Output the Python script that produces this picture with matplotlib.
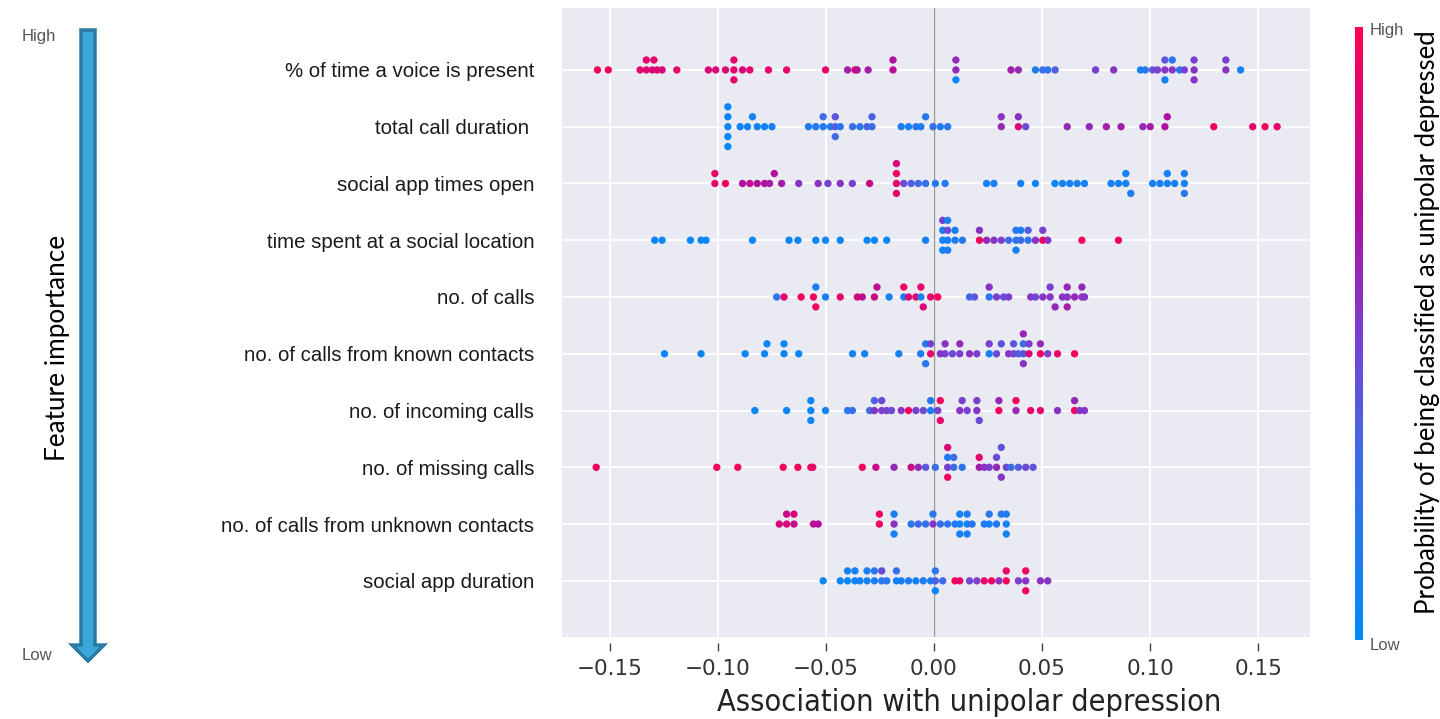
import numpy as np
import matplotlib.pyplot as plt
from matplotlib.colors import LinearSegmentedColormap
from matplotlib.patches import Polygon
from matplotlib.transforms import IdentityTransform
import matplotlib as mpl

# feature names, top (most important) to bottom
features = ["% of time a voice is present", "total call duration ", "social app times open",
            "time spent at a social location", "no. of calls", "no. of calls from known contacts",
            "no. of incoming calls", "no. of missing calls", "no. of calls from unknown contacts",
            "social app duration"]

# SHAP values (x) and colour value (0 = low, 1 = high probability) per feature
voice_x = [-0.1556, -0.1506, -0.1359, -0.1330, -0.1330, -0.1302, -0.1295, -0.1280, -0.1257, -0.1189,
           -0.1043, -0.1009, -0.0964, -0.0925, -0.0925, -0.0925, -0.0885, -0.0851, -0.0765, -0.0681,
           -0.0501, -0.0399, -0.0365, -0.0355, -0.0304, -0.0189, -0.0189, 0.0102, 0.0102, 0.0102,
           0.0357, 0.0391, 0.0470, 0.0504, 0.0527, 0.0561, 0.0748, 0.0832, 0.0956, 0.0978,
           0.1012, 0.1035, 0.1069, 0.1069, 0.1069, 0.1103, 0.1103, 0.1137, 0.1159, 0.1204,
           0.1204, 0.1204, 0.1351, 0.1351, 0.1419]
voice_c = [0.95, 0.95, 0.9, 0.9, 0.9, 0.85, 0.9, 0.9, 0.85, 0.9,
           0.85, 0.85, 0.85, 0.9, 0.9, 0.9, 0.85, 0.9, 0.9, 0.9,
           0.9, 0.65, 0.9, 0.7, 0.65, 0.75, 0.7, 0.6, 0.6, 0.05,
           0.65, 0.6, 0.15, 0.3, 0.2, 0.35, 0.5, 0.55, 0.1, 0.2,
           0.4, 0.5, 0.55, 0.4, 0.1, 0.55, 0.2, 0.15, 0.5, 0.55,
           0.5, 0.55, 0.55, 0.5, 0.1]

calldur_x = [-0.0953, -0.0953, -0.0953, -0.0953, -0.0953, -0.0896, -0.0862, -0.0839, -0.0817, -0.0783,
             -0.0749, -0.0580, -0.0546, -0.0512, -0.0512, -0.0478, -0.0456, -0.0456, -0.0456, -0.0433,
             -0.0376, -0.0342, -0.0309, -0.0286, -0.0286, -0.0151, -0.0117, -0.0083, -0.0060, -0.0038,
             -0.0004, 0.0030, 0.0064, 0.0312, 0.0312, 0.0391, 0.0391, 0.0425, 0.0617, 0.0719,
             0.0798, 0.0866, 0.0967, 0.1001, 0.1069, 0.1080, 0.1295, 0.1475, 0.1532, 0.1588]
calldur_c = [0.05, 0.05, 0.05, 0.05, 0.05, 0.08, 0.1, 0.1, 0.08, 0.1,
             0.1, 0.15, 0.2, 0.15, 0.3, 0.2, 0.35, 0.4, 0.3, 0.2,
             0.25, 0.2, 0.35, 0.3, 0.35, 0.15, 0.1, 0.2, 0.15, 0.2,
             0.25, 0.15, 0.2, 0.6, 0.55, 0.85, 0.55, 0.45, 0.6, 0.6,
             0.65, 0.65, 0.6, 0.65, 0.7, 0.7, 0.95, 0.9, 0.95, 0.9]

appopen_x = [-0.1013, -0.1013, -0.0964, -0.0885, -0.0851, -0.0817, -0.0783, -0.0760, -0.0738, -0.0704,
             -0.0625, -0.0535, -0.0490, -0.0433, -0.0377, -0.0297, -0.0173, -0.0173, -0.0173, -0.0173,
             -0.0139, -0.0105, -0.0072, -0.0038, 0.0007, 0.0052, 0.0244, 0.0278, 0.0402, 0.0470,
             0.0560, 0.0595, 0.0629, 0.0663, 0.0697, 0.0820, 0.0854, 0.0888, 0.0888, 0.0911,
             0.1012, 0.1046, 0.1080, 0.1080, 0.1114, 0.1159, 0.1159, 0.1159]
appopen_c = [0.9, 0.9, 0.95, 0.7, 0.75, 0.7, 0.7, 0.65, 0.7, 0.65,
             0.55, 0.55, 0.5, 0.55, 0.5, 0.8, 0.9, 0.95, 0.9, 0.85,
             0.45, 0.35, 0.3, 0.25, 0.15, 0.15, 0.1, 0.1, 0.1, 0.1,
             0.05, 0.1, 0.1, 0.1, 0.1, 0.1, 0.1, 0.1, 0.1, 0.15,
             0.1, 0.1, 0.1, 0.1, 0.1, 0.1, 0.15, 0.2]

socloc_x = [-0.1291, -0.1257, -0.1126, -0.1077, -0.1054, -0.0839, -0.0670, -0.0629, -0.0546, -0.0501,
            -0.0433, -0.0309, -0.0275, -0.0218, -0.0038, 0.0041, 0.0041, 0.0041, 0.0041, 0.0064,
            0.0064, 0.0064, 0.0064, 0.0098, 0.0098, 0.0132, 0.0211, 0.0211, 0.0244, 0.0278,
            0.0312, 0.0346, 0.0380, 0.0380, 0.0380, 0.0402, 0.0402, 0.0436, 0.0436, 0.0470,
            0.0504, 0.0504, 0.0527, 0.0685, 0.0854]
socloc_c = [0.05, 0.05, 0.05, 0.05, 0.05, 0.05, 0.05, 0.05, 0.05, 0.05,
            0.05, 0.05, 0.05, 0.05, 0.1, 0.1, 0.15, 0.05, 0.5, 0.1,
            0.45, 0.15, 0.1, 0.15, 0.1, 0.2, 0.95, 0.55, 0.6, 0.55,
            0.5, 0.3, 0.2, 0.15, 0.1, 0.3, 0.15, 0.2, 0.35, 0.55,
            0.95, 0.5, 0.55, 0.95, 0.95]

ncalls_x = [-0.0727, -0.0693, -0.0614, -0.0557, -0.0546, -0.0546, -0.0501, -0.0433, -0.0354, -0.0331,
            -0.0275, -0.0263, -0.0207, -0.0139, -0.0139, -0.0117, -0.0083, -0.0060, -0.0060, -0.0049,
            -0.0015, 0.0018, 0.0165, 0.0188, 0.0256, 0.0256, 0.0290, 0.0323, 0.0346, 0.0448,
            0.0470, 0.0504, 0.0538, 0.0538, 0.0561, 0.0595, 0.0617, 0.0617, 0.0617, 0.0651,
            0.0685, 0.0685, 0.0697]
ncalls_c = [0.2, 0.9, 0.95, 0.95, 0.15, 0.95, 0.1, 0.9, 0.85, 0.75,
            0.8, 0.75, 0.1, 0.1, 0.95, 0.85, 0.9, 0.1, 0.9, 0.85,
            0.9, 0.95, 0.3, 0.4, 0.2, 0.55, 0.5, 0.45, 0.5, 0.55,
            0.45, 0.55, 0.55, 0.5, 0.6, 0.55, 0.55, 0.6, 0.65, 0.6,
            0.55, 0.6, 0.55]

known_x = [-0.1246, -0.1077, -0.0873, -0.0783, -0.0772, -0.0693, -0.0693, -0.0625, -0.0376, -0.0320,
           -0.0162, -0.0061, -0.0038, -0.0038, -0.0015, -0.0015, 0.0030, 0.0052, 0.0052, 0.0086,
           0.0120, 0.0120, 0.0165, 0.0199, 0.0256, 0.0256, 0.0290, 0.0312, 0.0346, 0.0369,
           0.0369, 0.0391, 0.0414, 0.0414, 0.0414, 0.0414, 0.0440, 0.0440, 0.0493, 0.0493,
           0.0527, 0.0572, 0.0651]
known_c = [0.05, 0.05, 0.05, 0.05, 0.05, 0.05, 0.05, 0.05, 0.1, 0.1,
           0.1, 0.15, 0.15, 0.2, 0.9, 0.5, 0.55, 0.5, 0.55, 0.45,
           0.5, 0.6, 0.55, 0.5, 0.1, 0.5, 0.45, 0.4, 0.55, 0.5,
           0.4, 0.35, 0.4, 0.3, 0.55, 0.6, 0.85, 0.5, 0.95, 0.6,
           0.5, 0.9, 0.95]

incoming_x = [-0.0828, -0.0681, -0.0569, -0.0569, -0.0569, -0.0501, -0.0399, -0.0377, -0.0297, -0.0275,
              -0.0275, -0.0241, -0.0241, -0.0218, -0.0196, -0.0151, -0.0117, -0.0083, -0.0049, -0.0015,
              -0.0015, 0.0018, 0.0030, 0.0030, 0.0120, 0.0131, 0.0154, 0.0199, 0.0199, 0.0210,
              0.0301, 0.0301, 0.0380, 0.0380, 0.0448, 0.0493, 0.0572, 0.0651, 0.0651, 0.0674,
              0.0697]
incoming_c = [0.05, 0.05, 0.05, 0.05, 0.05, 0.1, 0.2, 0.25, 0.3, 0.55,
              0.35, 0.5, 0.45, 0.5, 0.45, 0.55, 0.95, 0.5, 0.45, 0.1,
              0.15, 0.5, 0.95, 0.9, 0.55, 0.5, 0.5, 0.55, 0.5, 0.45,
              0.95, 0.6, 0.6, 0.95, 0.9, 0.9, 0.55, 0.95, 0.6, 0.55,
              0.55]

missing_x = [-0.1562, -0.1004, -0.0907, -0.0697, -0.0629, -0.0569, -0.0560, -0.0331, -0.0268, -0.0184,
             -0.0105, -0.0072, -0.0038, 0.0007, 0.0064, 0.0064, 0.0064, 0.0064, 0.0092, 0.0092,
             0.0131, 0.0210, 0.0210, 0.0233, 0.0256, 0.0290, 0.0290, 0.0312, 0.0312, 0.0335,
             0.0357, 0.0391, 0.0425, 0.0459]
missing_c = [0.95, 0.95, 0.95, 0.95, 0.95, 0.95, 0.9, 0.95, 0.8, 0.6,
             0.8, 0.6, 0.4, 0.3, 0.5, 0.15, 0.95, 0.85, 0.3, 0.3,
             0.2, 0.65, 0.9, 0.55, 0.5, 0.6, 0.45, 0.55, 0.4, 0.45,
             0.3, 0.35, 0.45, 0.4]

unknown_x = [-0.0715, -0.0681, -0.0681, -0.0647, -0.0647, -0.0557, -0.0535, -0.0252, -0.0252, -0.0184,
             -0.0184, -0.0184, -0.0105, -0.0072, -0.0038, -0.0004, -0.0004, 0.0030, 0.0064, 0.0098,
             0.0120, 0.0120, 0.0120, 0.0154, 0.0154, 0.0154, 0.0177, 0.0233, 0.0256, 0.0256,
             0.0290, 0.0312, 0.0335, 0.0335, 0.0335]
unknown_c = [0.85, 0.85, 0.8, 0.8, 0.85, 0.75, 0.7, 0.95, 0.95, 0.55,
             0.15, 0.1, 0.2, 0.3, 0.25, 0.55, 0.2, 0.25, 0.2, 0.15,
             0.1, 0.1, 0.1, 0.1, 0.15, 0.1, 0.2, 0.15, 0.1, 0.2,
             0.15, 0.2, 0.1, 0.15, 0.1]

appdur_x = [-0.0512, -0.0433, -0.0399, -0.0399, -0.0365, -0.0365, -0.0342, -0.0309, -0.0309, -0.0275,
            -0.0275, -0.0241, -0.0241, -0.0218, -0.0173, -0.0173, -0.0151, -0.0117, -0.0083, -0.0049,
            -0.0015, 0.0007, 0.0007, 0.0007, 0.0041, 0.0098, 0.0120, 0.0165, 0.0199, 0.0233,
            0.0267, 0.0301, 0.0335, 0.0335, 0.0391, 0.0425, 0.0425, 0.0425, 0.0493, 0.0527]
appdur_c = [0.05, 0.05, 0.05, 0.1, 0.05, 0.1, 0.1, 0.1, 0.15, 0.1,
            0.2, 0.2, 0.45, 0.2, 0.1, 0.25, 0.1, 0.15, 0.1, 0.15,
            0.1, 0.35, 0.2, 0.05, 0.3, 0.95, 0.9, 0.45, 0.5, 0.9,
            0.95, 0.55, 0.95, 0.9, 0.5, 0.55, 0.95, 0.95, 0.55, 0.55]

xticks = [-0.15, -0.10, -0.05, 0.00, 0.05, 0.10, 0.15]

all_x = [voice_x, calldur_x, appopen_x, socloc_x, ncalls_x, known_x, incoming_x, missing_x, unknown_x, appdur_x]
all_c = [voice_c, calldur_c, appopen_c, socloc_c, ncalls_c, known_c, incoming_c, missing_c, unknown_c, appdur_c]

cmap = LinearSegmentedColormap.from_list(
    "red_blue", [(0.0, "#008bfb"), (0.3, "#3f6be6"), (0.5, "#7a3fd0"),
                 (0.7, "#b0109e"), (1.0, "#ff0052")])


def swarm_offsets(x, binw=0.0025, step=0.175):
    # simple beeswarm: points in the same bin get stacked up/down
    x = np.asarray(x)
    q = np.round(x / binw)
    order = np.argsort(q, kind="stable")
    ys = np.zeros(len(x))
    layer, last = 0, None
    for i in order:
        if q[i] != last:
            layer = 0
        ys[i] = np.ceil(layer / 2) * ((layer % 2) * 2 - 1)
        layer += 1
        last = q[i]
    return ys * step


fig = plt.figure(figsize=(14.4, 7.19), dpi=100)
ax = fig.add_axes([0.3903, 0.114, 0.5194, 0.8748])
ax.set_facecolor("#eaeaf2")
for sp in ax.spines.values():
    sp.set_visible(False)
ax.spines["bottom"].set_position(("outward", 4))

n = len(features)
for i, (xv, cv) in enumerate(zip(all_x, all_c)):
    y0 = n - 1 - i
    ax.scatter(xv, y0 + swarm_offsets(xv), c=cv, cmap=cmap, vmin=0, vmax=1,
               s=28, linewidths=0, zorder=3)

ax.axvline(0, color="#999999", lw=1.0, zorder=2)
ax.set_xlim(-0.172, 0.174)
ax.set_ylim(-0.99, n - 1 + 1.09)
ax.set_yticks(range(n))
ax.set_yticklabels(features[::-1], fontsize=14.7, family="Liberation Sans", color="#1a1a1a")
ax.set_xticks(xticks)
ax.set_xticklabels(["\u22120.15", "\u22120.10", "\u22120.05", "0.00", "0.05", "0.10", "0.15"],
                   fontsize=15.5, family="DejaVu Sans", color="#333333")
ax.grid(True, color="white", lw=1.3, zorder=0)
ax.set_axisbelow(True)
ax.tick_params(axis="y", length=0, pad=20)
ax.tick_params(axis="x", length=6, width=1, color="#444444", direction="out", pad=6)
ax.set_xlabel("Association with unipolar depression", fontsize=22, family="DejaVu Sans",
              stretch="condensed", color="#222222", va="baseline")
ax.xaxis.set_label_coords(0.544, -0.117)

# colour bar on the right
cax = fig.add_axes([0.941, 0.110, 0.0056, 0.853])
cb = fig.colorbar(mpl.cm.ScalarMappable(norm=mpl.colors.Normalize(0, 1), cmap=cmap), cax=cax)
cb.outline.set_visible(False)
cb.set_ticks([])
fig.text(1370 / 1440, 1 - 30 / 719, "High", ha="left", va="center", fontsize=12,
         family="Liberation Sans", color="#555555")
fig.text(1370 / 1440, 1 - 646 / 719, "Low", ha="left", va="center", fontsize=12,
         family="Liberation Sans", color="#555555")
fig.text(1427 / 1440, 1 - 322 / 719, "Probability of being classified as unipolar depressed",
         rotation=90, ha="center", va="center", fontsize=18.5, family="Lato", color="black")

# importance arrow on the left (pixel coordinates)
H = 719
ax_c, top, tip = 88, 30, 661
shaft_w, head_w, head_l = 14, 32, 16
pts = [(ax_c - shaft_w / 2, top), (ax_c + shaft_w / 2, top), (ax_c + shaft_w / 2, tip - head_l),
       (ax_c + head_w / 2, tip - head_l), (ax_c, tip), (ax_c - head_w / 2, tip - head_l),
       (ax_c - shaft_w / 2, tip - head_l)]
pts = [(px, H - py) for px, py in pts]
fig.patches.append(Polygon(pts, closed=True, transform=IdentityTransform(), facecolor="#3aa6da",
                           edgecolor="#2a7aa5", lw=2.5, figure=fig))
fig.text(22 / 1440, 1 - 37 / 719, "High", ha="left", va="center", fontsize=12,
         family="Liberation Sans", color="#555555")
fig.text(22 / 1440, 1 - 655 / 719, "Low", ha="left", va="center", fontsize=12,
         family="Liberation Sans", color="#555555")
fig.text(57 / 1440, 1 - 348 / 719, "Feature importance", rotation=90, ha="center", va="center",
         fontsize=18.8, family="Lato", color="black")

fig.savefig("out.png", dpi=100)
